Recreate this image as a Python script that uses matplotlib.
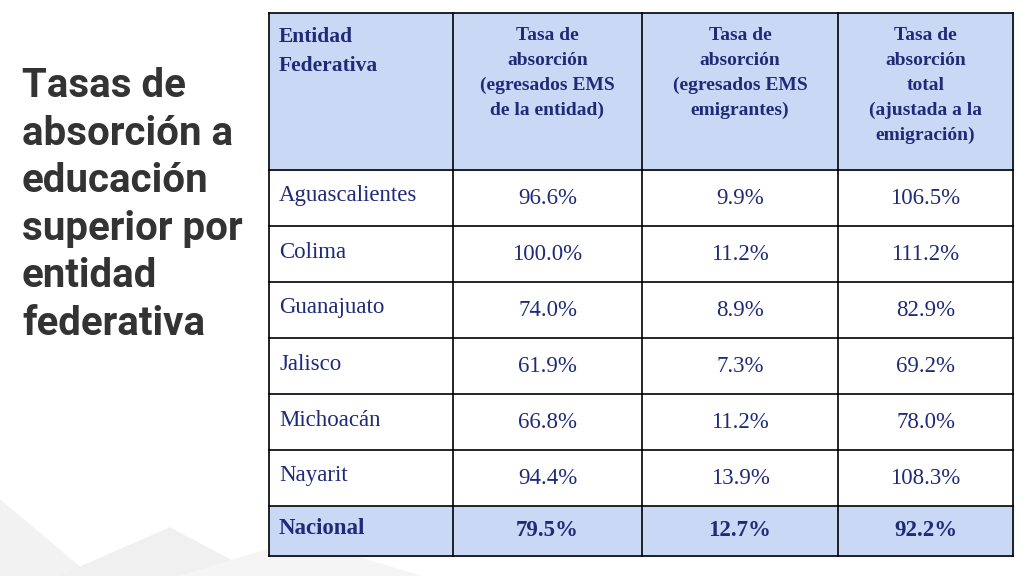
import matplotlib.pyplot as plt
from matplotlib.patches import Rectangle, Polygon

# Table data
headers = ['Entidad\nFederativa',
           'Tasa de\nabsorción\n(egresados EMS\nde la entidad)',
           'Tasa de\nabsorción\n(egresados EMS\nemigrantes)',
           'Tasa de\nabsorción\ntotal\n(ajustada a la\nemigración)']
entidades = ['Aguascalientes', 'Colima', 'Guanajuato', 'Jalisco', 'Michoacán', 'Nayarit', 'Nacional']
tasa_entidad = [96.6, 100.0, 74.0, 61.9, 66.8, 94.4, 79.5]
tasa_emigrantes = [9.9, 11.2, 8.9, 7.3, 11.2, 13.9, 12.7]
tasa_total = [106.5, 111.2, 82.9, 69.2, 78.0, 108.3, 92.2]
title = 'Tasas de\nabsorción a\neducación\nsuperior por\nentidad\nfederativa'

# layout in pixels
col_x = [269, 453, 642, 838, 1013]
row_y = [13, 170, 226, 282, 338, 394, 450, 506, 556]
fill = '#c9d9f5'
txt = '#1f2a78'
serif = 'Liberation Serif'

fig = plt.figure(figsize=(10.24, 5.76), dpi=100)
ax = fig.add_axes([0, 0, 1, 1])
ax.set_xlim(0, 1024)
ax.set_ylim(576, 0)
ax.axis('off')

# decorative background shapes
ax.add_patch(Polygon([(0, 576), (0, 500), (90, 576)], color='#f2f2f2', zorder=0))
ax.add_patch(Polygon([(60, 576), (170, 528), (260, 576)], color='#f0f0f0', zorder=0))
ax.add_patch(Polygon([(180, 576), (300, 540), (420, 576)], color='#f5f5f5', zorder=0))

ax.text(22, 205, title, fontsize=29, fontweight='bold', family='Roboto',
        color='#333333', va='center', ha='left', linespacing=1.32)

# header and Nacional row fills
ax.add_patch(Rectangle((col_x[0], row_y[0]), col_x[-1] - col_x[0], row_y[1] - row_y[0],
                       color=fill, zorder=1))
ax.add_patch(Rectangle((col_x[0], row_y[-2]), col_x[-1] - col_x[0], row_y[-1] - row_y[-2],
                       color=fill, zorder=1))

for x in col_x:
    ax.plot([x, x], [row_y[0], row_y[-1]], color='black', lw=1.2, zorder=2)
for y in row_y:
    ax.plot([col_x[0], col_x[-1]], [y, y], color='black', lw=1.2, zorder=2)

# header text
ax.text(col_x[0] + 10, row_y[0] + 14, headers[0], fontsize=15.5, family=serif,
        fontweight='bold', color=txt, va='top', ha='left', linespacing=1.6)
for j in range(1, 4):
    cx = (col_x[j] + col_x[j + 1]) / 2
    ax.text(cx, row_y[0] + 14, headers[j], fontsize=14, family=serif,
            fontweight='bold', color=txt, va='top', ha='center', linespacing=1.6)

# body
for i, name in enumerate(entidades):
    cy = (row_y[i + 1] + row_y[i + 2]) / 2
    w = 'bold' if name == 'Nacional' else 'normal'
    ax.text(col_x[0] + 10, cy - 2, name, fontsize=16.5, family=serif, fontweight=w,
            color=txt, va='center', ha='left')
    for j, vals in enumerate([tasa_entidad, tasa_emigrantes, tasa_total]):
        cx = (col_x[j + 1] + col_x[j + 2]) / 2
        ax.text(cx, cy, f'{vals[i]:.1f}%', fontsize=16.5, family=serif, fontweight=w,
                color=txt, va='center', ha='center')

fig.savefig('out.png', dpi=100)
